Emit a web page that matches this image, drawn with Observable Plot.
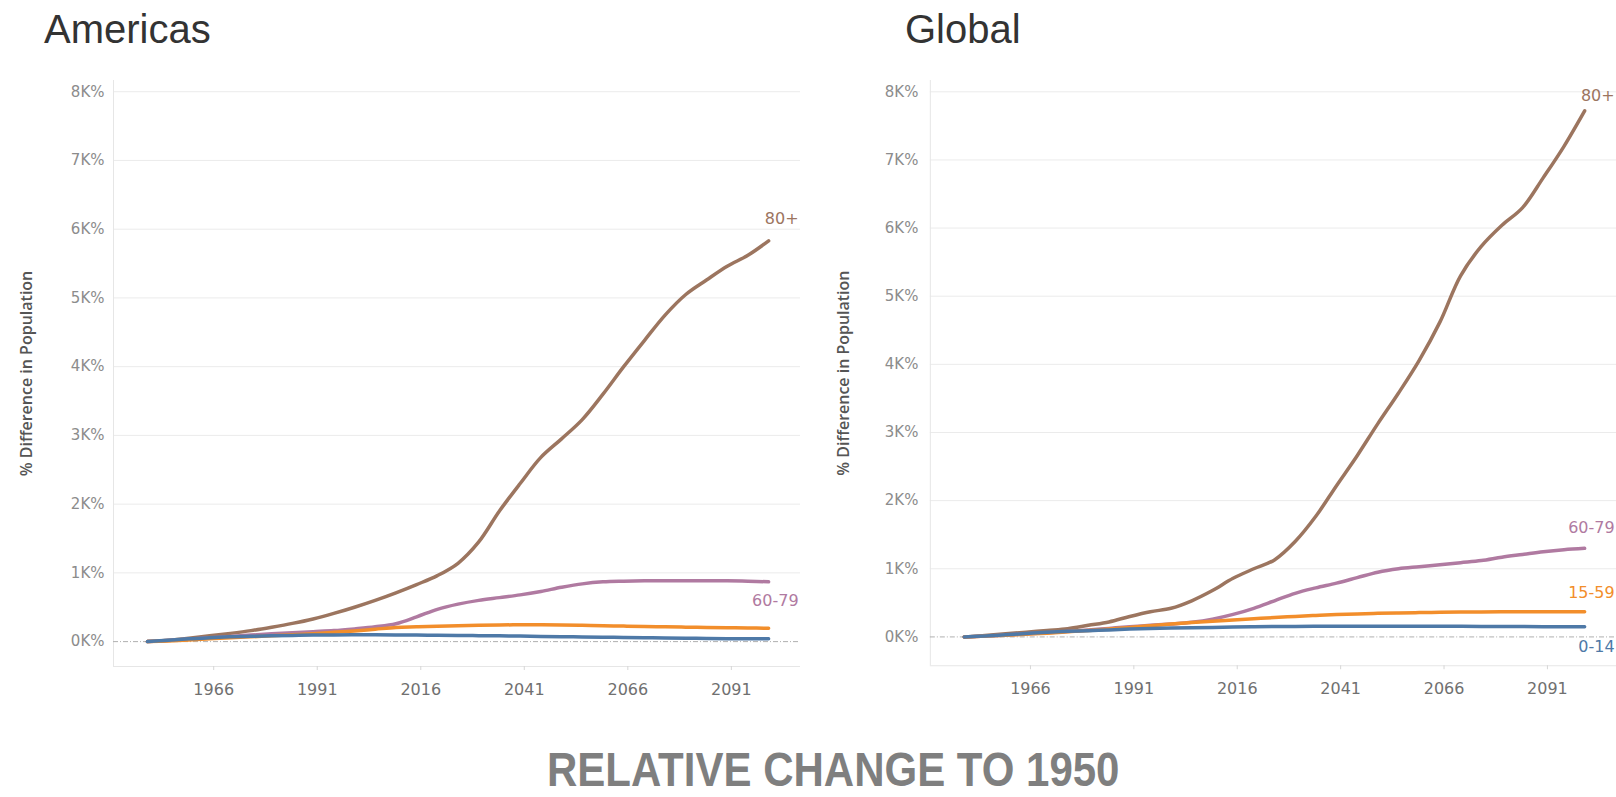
<!DOCTYPE html>
<html>
<head>
<meta charset="utf-8">
<script src="https://cdn.jsdelivr.net/npm/d3@7"></script>
<script src="https://cdn.jsdelivr.net/npm/@observablehq/plot@0.6"></script>
<style>
  html, body { margin:0; padding:0; background:#fff; }
  body { width:1616px; height:797px; overflow:hidden; position:relative; font-family:"Liberation Sans", Arial, sans-serif; }
  .title { position:absolute; font-size:40px; line-height:40px; color:#333; white-space:nowrap; }
  .panel { position:absolute; top:60px; }
  #bottom { position:absolute; left:0; width:1666px; text-align:center; top:752px; height:36px; }
  #bottom span { display:inline-block; transform:scaleX(0.875); transform-origin:center; font-family:"Liberation Sans", Arial, sans-serif; font-weight:bold; font-size:48px; line-height:36px; color:#7f7f7f; white-space:nowrap; }
</style>
</head>
<body>
<div class="title" style="left:44px; top:9px;">Americas</div>
<div class="title" style="left:905px; top:9px;">Global</div>
<div id="left" class="panel" style="left:0px;"></div>
<div id="right" class="panel" style="left:817px;"></div>
<div id="bottom"><span>RELATIVE CHANGE TO 1950</span></div>
<script>
// ---------- data (percent difference vs 1950) ----------
const years = [1950,1955,1960,1965,1970,1975,1980,1985,1990,1995,2000,2005,2010,2015,2020,2025,2030,2035,2040,2045,2050,2055,2060,2065,2070,2075,2080,2085,2090,2095,2100];

const groups = ["0-14","15-59","60-79","80+"];
const colors = ["#4e79a7","#f28e2b","#b07aa1","#9c755f"];

const americas80   = [0,20,50,85,120,160,210,265,330,410,500,600,710,830,960,1140,1450,1900,2300,2680,2950,3230,3600,4000,4380,4750,5050,5260,5460,5620,5830];
const americas6079 = [0,15,35,55,75,95,115,130,145,160,185,215,260,360,470,545,600,640,680,730,790,840,870,880,885,885,885,885,885,880,870];
const americas1559 = [0,10,25,40,55,70,85,100,115,135,155,180,205,215,225,232,238,242,245,245,243,238,232,226,220,215,210,206,202,198,195];
const americas014  = [0,20,40,58,70,78,85,90,95,98,100,100,98,95,92,90,87,84,80,76,72,68,64,60,56,52,49,46,43,41,40];

const global80   = [0,20,45,70,95,120,170,220,300,370,420,530,680,860,1000,1130,1400,1770,2220,2660,3130,3580,4060,4620,5300,5730,6040,6300,6740,7200,7720];
const global6079 = [0,12,28,45,62,80,100,125,150,170,190,215,260,330,420,530,640,720,790,870,950,1000,1030,1060,1090,1120,1170,1210,1250,1280,1300];
const global1559 = [0,12,25,40,55,75,95,115,140,165,190,210,230,250,268,285,300,315,328,338,346,352,357,361,364,366,368,369,370,370,370];
const global014  = [0,15,32,50,68,82,92,102,115,125,130,135,140,145,150,152,154,156,157,158,158,158,157,156,155,154,153,152,151,150,148];

const xTicks = [1966,1991,2016,2041,2066,2091];
const yTicks = [0,1000,2000,3000,4000,5000,6000,7000,8000];
const yTitle = "% Difference in Population";

// ---------- drawing ----------
const drawOrder = ["80+","60-79","15-59","0-14"];
const xDomain = [1941.8, 2107.7];

function makePanel(series, yDomain, labelCfg, tickPad) {
  const rows = [];
  for (const g of drawOrder) series[g].forEach((v, i) => rows.push({year: years[i], value: v, group: g}));
  const last = years.length - 1;
  const labelMarks = drawOrder.filter(g => g in labelCfg).map(g =>
    Plot.text([{year: years[last], value: series[g][last], group: g}], {
      x: "year", y: "value", text: "group", fill: "group",
      textAnchor: "end", dx: 30, dy: labelCfg[g],
      fontSize: 16, fontFamily: "DejaVu Sans, sans-serif"
    })
  );
  return Plot.plot({
    width: 800, height: 650,
    marginLeft: 113, marginRight: 0, marginTop: 20, marginBottom: 44,
    style: {background: "transparent", overflow: "visible", fontFamily: "DejaVu Sans, sans-serif"},
    x: {domain: xDomain},
    y: {domain: yDomain},
    color: {domain: groups, range: colors},
    marks: [
      Plot.gridY(yTicks.filter(d => d > 0), {stroke: "#ebebeb", strokeOpacity: 1}),
      Plot.ruleX([xDomain[0]], {stroke: "#e6e6e6"}),
      Plot.ruleY([yDomain[0]], {stroke: "#e6e6e6"}),
      Plot.ruleY([0], {stroke: "#b0b0b0", strokeDasharray: "5,2,1,2"}),
      Plot.axisY(yTicks, {tickSize: 0, tickPadding: tickPad, tickFormat: d => `${d/1000}K%`, fill: "#8c8c8c", fontSize: 15, label: null}),
      Plot.axisX(xTicks, {tickSize: 4, stroke: "#d6d6d6", tickPadding: 13, tickFormat: d => String(d), fill: "#707070", fontSize: 16, label: null}),
      Plot.text([yTitle], {text: d => d, frameAnchor: "left", textAnchor: "middle", dx: -87, rotate: -90, fill: "#555", fontSize: 16, fontWeight: 600, fontFamily: "Open Sans, sans-serif"}),
      Plot.line(rows, {x: "year", y: "value", z: "group", stroke: "group", strokeWidth: 3.5, curve: "catmull-rom", strokeLinecap: "round"}),
      ...labelMarks
    ]
  });
}

// left: 0 at y=641, 8K at y=89 (page); plot area 80..666
document.getElementById("left").append(
  makePanel({"80+": americas80, "60-79": americas6079, "15-59": americas1559, "0-14": americas014},
            [-362, 8163], {"80+": -22, "60-79": 19}, 9)
);
// right: 0 at y=637, 8K at y=89 (page)
document.getElementById("right").append(
  makePanel({"80+": global80, "60-79": global6079, "15-59": global1559, "0-14": global014},
            [-423, 8166], {"80+": -15, "60-79": -20, "15-59": -19, "0-14": 20}, 12)
);
</script>
</body>
</html>
